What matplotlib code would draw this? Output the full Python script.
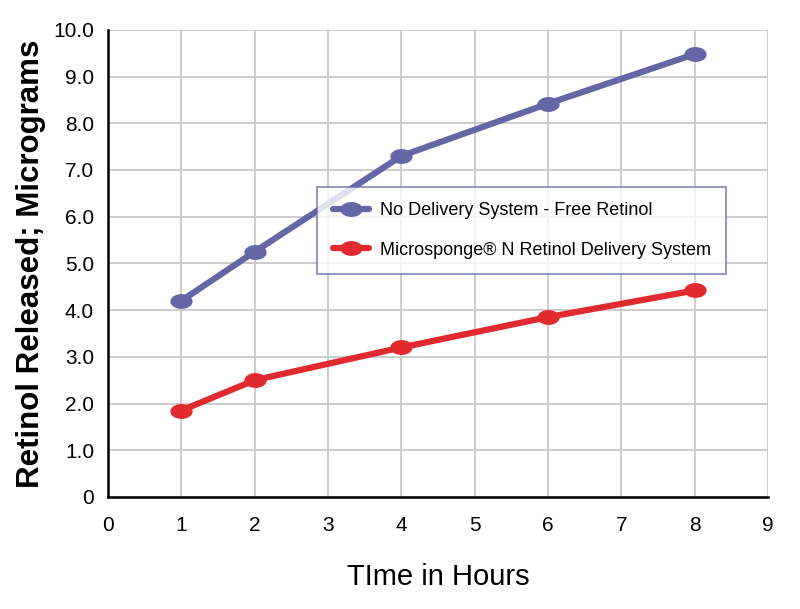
import matplotlib.pyplot as plt
import numpy as np
from matplotlib.path import Path

plt.rcParams['font.family'] = ['Liberation Sans', 'DejaVu Sans']

# data
hours = [1, 2, 4, 6, 8]
free_retinol = [4.2, 5.25, 7.3, 8.42, 9.48]
microsponge = [1.85, 2.5, 3.2, 3.85, 4.42]
x_ticks = list(range(0, 10))
y_ticks = np.arange(0, 10.5, 1.0)
y_tick_labels = ['0'] + ['%.1f' % v for v in y_ticks[1:]]

blue = '#6466a6'
red = '#e02a30'

# wide ellipse marker
t = np.linspace(0, 2 * np.pi, 60)
ell = Path(np.column_stack([1.55 * np.cos(t), np.sin(t)]), closed=True)

fig = plt.figure(figsize=(8, 6.09), dpi=100)
ax = fig.add_axes([0.135, 0.184, 0.825, 0.767])

ax.plot(hours, free_retinol, color=blue, lw=4.5, marker=ell, ms=15,
        label='No Delivery System - Free Retinol', solid_capstyle='round')
ax.plot(hours, microsponge, color=red, lw=4.5, marker=ell, ms=15,
        label='Microsponge® N Retinol Delivery System', solid_capstyle='round')

ax.set_xlim(0, 9)
ax.set_ylim(0, 10)
ax.set_xticks(x_ticks)
ax.set_yticks(y_ticks)
ax.set_yticklabels(y_tick_labels)
ax.tick_params(length=0, labelsize=15)
ax.tick_params(axis='x', pad=14)
ax.tick_params(axis='y', pad=10)
ax.grid(True, color='#c8c8c8', lw=1.3)
ax.set_axisbelow(True)
for s in ['top', 'right']:
    ax.spines[s].set_visible(False)
for s in ['left', 'bottom']:
    ax.spines[s].set_linewidth(1.8)

ax.set_xlabel('TIme in Hours', fontsize=21, labelpad=20)
ax.set_ylabel('Retinol Released; Micrograms', fontsize=22.5, fontweight='bold', labelpad=5)

leg = ax.legend(loc='upper left', bbox_to_anchor=(0.317, 0.664), fontsize=13,
                frameon=True, fancybox=False, edgecolor=blue, handlelength=2.0,
                borderpad=0.85, labelspacing=1.25, borderaxespad=0, handletextpad=0.6)
leg.get_frame().set_linewidth(1.2)

fig.savefig('out.png', dpi=100)
